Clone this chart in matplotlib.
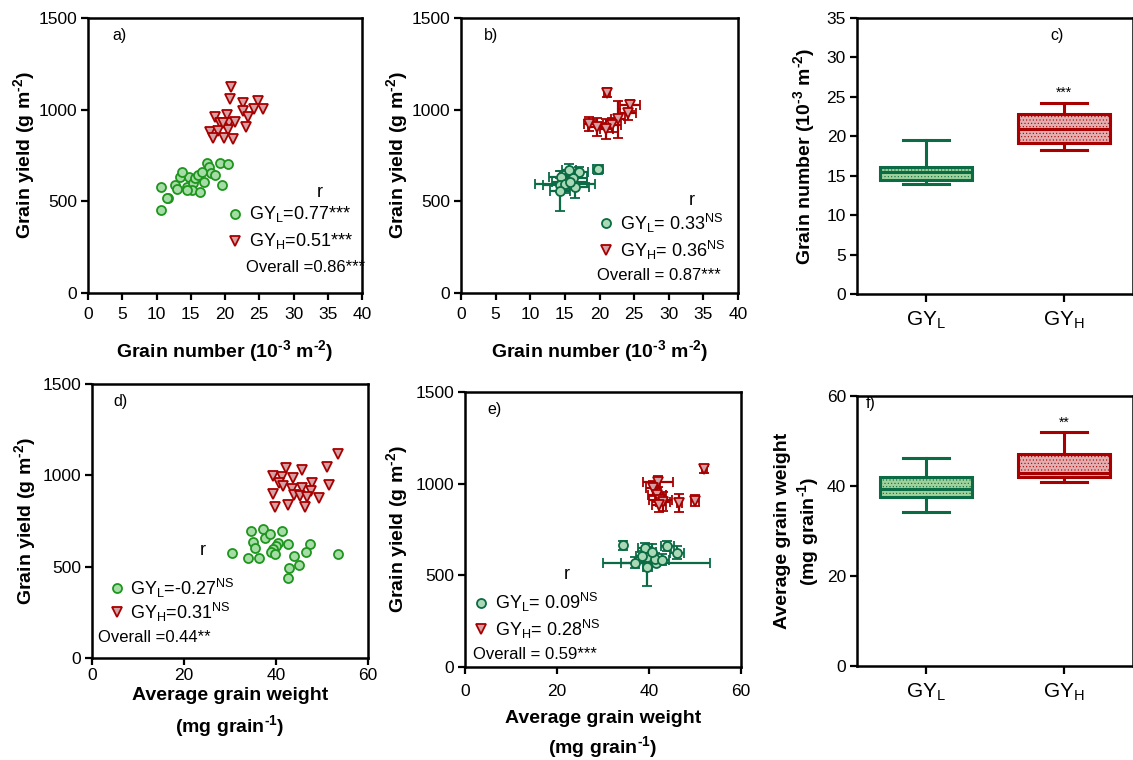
import numpy as np
import matplotlib
matplotlib.use("Agg")
import matplotlib.pyplot as plt

plt.rcParams['font.family'] = ['Liberation Sans', 'DejaVu Sans']
plt.rcParams['mathtext.fontset'] = 'custom'
plt.rcParams['mathtext.rm'] = 'Liberation Sans'
plt.rcParams['mathtext.it'] = 'Liberation Sans:italic'
plt.rcParams['mathtext.bf'] = 'Liberation Sans:bold'
plt.rcParams['hatch.linewidth'] = 0.4
plt.rcParams['hatch.color'] = '#ffffff'

# a) grain yield vs grain number, individual plots
a_low_x = [10.7, 11.7, 11.5, 10.6, 12.7, 13.0, 13.4, 14.4, 14.8, 15.3, 15.2, 15.6, 16.0,
           16.3, 17.0, 17.3, 17.5, 17.7, 18.0, 18.6, 19.2, 19.6, 20.5, 14.5, 13.7, 16.7]
a_low_y = [580, 517, 520, 453, 589, 569, 634, 580, 634, 598, 562, 627, 644,
           553, 607, 707, 671, 689, 653, 644, 711, 589, 702, 560, 660, 660]
a_high_x = [20.9, 20.8, 22.7, 24.8, 24.3, 25.5, 22.6, 23.3, 23.1, 18.6, 20.3, 19.2, 20.6,
            21.5, 17.8, 19.0, 20.4, 18.3, 19.9, 21.1, 19.7]
a_high_y = [1122, 1057, 1038, 1047, 1002, 1002, 994, 962, 904, 962, 971, 926, 929,
            934, 880, 885, 889, 844, 844, 838, 926]

# b) genotype means with standard errors
b_low_x = [19.8, 15.6, 17.1, 14.5, 16.2, 14.3, 15.0, 16.5, 14.3, 15.7]
b_low_y = [675, 671, 658, 634, 626, 589, 595, 580, 558, 607]
b_low_xerr = [0.7, 1.0, 1.3, 1.8, 2.0, 2.5, 4.3, 2.0, 1.5, 2.5]
b_low_yerr = [25, 35, 30, 30, 40, 40, 50, 60, 110, 40]
b_high_x = [21.1, 24.4, 24.1, 22.7, 21.8, 21.0, 19.6, 18.5]
b_high_y = [1093, 1025, 983, 947, 916, 893, 904, 922]
b_high_xerr = [0.4, 1.5, 1.2, 1.0, 1.3, 1.0, 1.2, 0.8]
b_high_yerr = [25, 30, 40, 100, 40, 55, 50, 40]

# c) grain number box plots (10^-3 m^-2)
c_low = dict(whislo=13.9, q1=14.5, med=15.5, q3=16.1, whishi=19.5)
c_high = dict(whislo=18.2, q1=19.2, med=20.9, q3=22.8, whishi=24.2)

# d) grain yield vs average grain weight, individual plots
d_low_x = [30.4, 34.5, 37.2, 35.0, 37.6, 38.7, 41.2, 35.5, 40.5, 40.1, 42.7, 39.3, 39.0,
           39.8, 34.0, 36.4, 44.0, 47.4, 46.5, 45.0, 42.9, 42.5, 53.5]
d_low_y = [576, 697, 704, 637, 655, 679, 697, 600, 631, 613, 624, 595, 582,
           569, 546, 546, 558, 624, 579, 509, 494, 440, 568]
d_high_x = [53.5, 51.0, 51.5, 49.4, 42.2, 45.7, 39.3, 41.2, 40.7, 43.8, 47.8, 39.3, 43.5,
            44.0, 45.6, 47.6, 45.2, 46.7, 39.8, 42.5, 46.3, 41.6]
d_high_y = [1115, 1047, 947, 874, 1042, 1029, 996, 992, 960, 984, 960, 896, 925,
            892, 932, 916, 887, 880, 828, 838, 828, 942]

# e) genotype means with standard errors
e_low_x = [34.4, 39.1, 44.0, 46.0, 41.6, 39.6, 38.4, 37.0, 39.6, 41.3, 42.8, 40.6]
e_low_y = [665, 647, 660, 623, 569, 598, 605, 569, 547, 587, 584, 629]
e_low_xerr = [0.5, 1.5, 1.5, 1.5, 11.7, 1.0, 1.2, 3.0, 1.0, 1.5, 1.5, 1.0]
e_low_yerr = [25, 30, 25, 35, 20, 30, 30, 30, 105, 35, 30, 40]
e_high_x = [52.0, 42.0, 40.9, 41.8, 42.4, 43.1, 42.2, 46.6, 50.0]
e_high_y = [1078, 1011, 975, 938, 911, 902, 884, 893, 907]
e_high_xerr = [0.5, 3.3, 1.5, 2.0, 2.5, 1.5, 1.5, 0.5, 0.8]
e_high_yerr = [20, 30, 40, 40, 30, 50, 40, 50, 30]

# f) average grain weight box plots (mg grain^-1)
f_low = dict(whislo=34.3, q1=37.5, med=39.3, q3=41.9, whishi=46.2)
f_high = dict(whislo=41.0, q1=42.1, med=42.9, q3=47.1, whishi=52.0)

group_labels = ['GY$_\\mathrm{L}$', 'GY$_\\mathrm{H}$']

LIGHT_GREEN = '#a6dca6'
GREEN_EDGE = '#1e961e'
DARK_GREEN = '#0b6b45'
TEAL_FILL = '#a9d9b5'
RED_EDGE = '#a80000'
RED_FILL = '#d4a2a4'

HY = '\u2010'
YLAB = 'Grain yield (g m$^{\\mathbf{' + HY + '2}}$)'
NLAB = 'Grain number (10$^{\\mathbf{' + HY + '3}}$ m$^{\\mathbf{' + HY + '2}}$)'
WLAB = 'Average grain weight\n(mg grain$^{\\mathbf{' + HY + '1}}$)'
LABEL_KW = dict(fontsize=14, fontweight='bold')

fig = plt.figure(figsize=(11.33, 7.6), dpi=100)
W, H = 1133, 760


def add_ax(l, r, t, b):
    return fig.add_axes([l / W, 1 - b / H, (r - l) / W, (b - t) / H])


def style(ax, xpad=3.5):
    for s in ax.spines.values():
        s.set_linewidth(1.8)
    ax.tick_params(direction='out', length=5, width=1.6, labelsize=12.5, pad=3)
    ax.tick_params(axis='x', pad=xpad)


def legend_text(ax, x0, xt, ys, texts, low_kw, high_kw, xr, yr, xo, yo, overall):
    ax.text(xr, yr, 'r', transform=ax.transAxes, fontsize=13, ha='center', va='center')
    ax.plot([x0], [ys[0]], transform=ax.transAxes, clip_on=False, ls='none', **low_kw)
    ax.plot([x0], [ys[1]], transform=ax.transAxes, clip_on=False, ls='none', **high_kw)
    ax.text(xt, ys[0], texts[0], transform=ax.transAxes, fontsize=13, va='center')
    ax.text(xt, ys[1], texts[1], transform=ax.transAxes, fontsize=13, va='center')
    ax.text(xo, yo, overall, transform=ax.transAxes, fontsize=12, va='center')


low_a = dict(marker='o', ms=6.5, mfc=LIGHT_GREEN, mec=GREEN_EDGE, mew=1.3)
high_a = dict(marker='v', ms=7.5, mfc=RED_FILL, mec=RED_EDGE, mew=1.3)
low_b = dict(marker='o', ms=6.5, mfc=TEAL_FILL, mec=DARK_GREEN, mew=1.3)
high_b = dict(marker='v', ms=7.5, mfc=RED_FILL, mec=RED_EDGE, mew=1.3)
err_kw = dict(ls='none', elinewidth=1.6, capsize=3.5, capthick=1.6)

# ---- a)
ax = add_ax(88, 362, 18, 293)
ax.plot(a_high_x, a_high_y, ls='none', **high_a)
ax.plot(a_low_x, a_low_y, ls='none', **low_a)
ax.set_xlim(0, 40)
ax.set_ylim(0, 1500)
ax.set_xticks(np.arange(0, 41, 5))
ax.set_yticks([0, 500, 1000, 1500])
style(ax, xpad=5)
ax.set_xlabel(NLAB, labelpad=12, **LABEL_KW)
ax.set_ylabel(YLAB, labelpad=1, **LABEL_KW)
ax.text(0.088, 0.92, 'a)', transform=ax.transAxes, fontsize=11.5)
legend_text(ax, 0.536, 0.587, [0.287, 0.189],
            ['GY$_\\mathrm{L}$=0.77***', 'GY$_\\mathrm{H}$=0.51***'],
            low_a, high_a, 0.847, 0.364, 0.577, 0.091, 'Overall =0.86***')

# ---- b)
ax = add_ax(461, 738, 18, 293)
ax.errorbar(b_high_x, b_high_y, xerr=b_high_xerr, yerr=b_high_yerr, ecolor=RED_EDGE,
            **err_kw, **high_b)
ax.errorbar(b_low_x, b_low_y, xerr=b_low_xerr, yerr=b_low_yerr, ecolor=DARK_GREEN,
            **err_kw, **low_b)
ax.set_xlim(0, 40)
ax.set_ylim(0, 1500)
ax.set_xticks(np.arange(0, 41, 5))
ax.set_yticks([0, 500, 1000, 1500])
style(ax, xpad=5)
ax.set_xlabel(NLAB, labelpad=12, **LABEL_KW)
ax.set_ylabel(YLAB, labelpad=1, **LABEL_KW)
ax.text(0.083, 0.92, 'b)', transform=ax.transAxes, fontsize=11.5)
legend_text(ax, 0.522, 0.574, [0.253, 0.156],
            ['GY$_\\mathrm{L}$= 0.33$^{\\mathrm{NS}}$', 'GY$_\\mathrm{H}$= 0.36$^{\\mathrm{NS}}$'],
            low_b, high_b, 0.833, 0.336, 0.49, 0.062, 'Overall = 0.87***')


def box_panel(ax, low, high, star, star_y):
    stats = [dict(low, label=group_labels[0]), dict(high, label=group_labels[1])]
    bp = ax.bxp(stats, positions=[1, 2], widths=0.67, capwidths=0.34, showfliers=False,
                patch_artist=True)
    for i, (edge, fill) in enumerate([(DARK_GREEN, '#9fd19b'), (RED_EDGE, '#e2aeb0')]):
        bp['boxes'][i].set(facecolor=fill, edgecolor=edge, linewidth=2.2, hatch='.....')
        bp['medians'][i].set(color=edge, linewidth=2.2)
        for ln in bp['whiskers'][2 * i:2 * i + 2] + bp['caps'][2 * i:2 * i + 2]:
            ln.set(color=edge, linewidth=2.2)
    ax.text(2, star_y, star, ha='center', va='center', fontsize=10)
    ax.set_xlim(0.5, 2.5)
    style(ax)
    ax.tick_params(axis='x', length=6, labelsize=15, pad=5)


# ---- c)
ax = add_ax(857, 1133, 18, 294)
box_panel(ax, c_low, c_high, '***', 25.5)
ax.set_ylim(0, 35)
ax.set_yticks(np.arange(0, 36, 5))
ax.set_ylabel(NLAB, labelpad=7, **LABEL_KW)
ax.text(0.70, 0.92, 'c)', transform=ax.transAxes, fontsize=11.5)

# ---- d)
ax = add_ax(92, 368, 384, 658)
ax.plot(d_high_x, d_high_y, ls='none', **high_a)
ax.plot(d_low_x, d_low_y, ls='none', **low_a)
ax.set_xlim(0, 60)
ax.set_ylim(0, 1500)
ax.set_xticks([0, 20, 40, 60])
ax.set_yticks([0, 500, 1000, 1500])
style(ax, xpad=2)
ax.set_xlabel(WLAB, labelpad=3, linespacing=1.5, **LABEL_KW)
ax.set_ylabel(YLAB, labelpad=3, **LABEL_KW)
ax.text(0.076, 0.92, 'd)', transform=ax.transAxes, fontsize=11.5)
legend_text(ax, 0.091, 0.138, [0.255, 0.168],
            ['GY$_\\mathrm{L}$=-0.27$^{\\mathrm{NS}}$', 'GY$_\\mathrm{H}$=0.31$^{\\mathrm{NS}}$'],
            low_a, high_a, 0.402, 0.394, 0.02, 0.073, 'Overall =0.44**')

# ---- e)
ax = add_ax(465, 741, 392, 667)
ax.errorbar(e_high_x, e_high_y, xerr=e_high_xerr, yerr=e_high_yerr, ecolor=RED_EDGE,
            **err_kw, **high_b)
ax.errorbar(e_low_x, e_low_y, xerr=e_low_xerr, yerr=e_low_yerr, ecolor=DARK_GREEN,
            **err_kw, **low_b)
ax.set_xlim(0, 60)
ax.set_ylim(0, 1500)
ax.set_xticks([0, 20, 40, 60])
ax.set_yticks([0, 500, 1000, 1500])
style(ax, xpad=7)
ax.set_xlabel(WLAB, labelpad=8, linespacing=1.4, **LABEL_KW)
ax.set_ylabel(YLAB, labelpad=4, **LABEL_KW)
ax.text(0.08, 0.92, 'e)', transform=ax.transAxes, fontsize=11.5)
legend_text(ax, 0.058, 0.109, [0.233, 0.138],
            ['GY$_\\mathrm{L}$= 0.09$^{\\mathrm{NS}}$', 'GY$_\\mathrm{H}$= 0.28$^{\\mathrm{NS}}$'],
            low_b, high_b, 0.37, 0.335, 0.03, 0.044, 'Overall = 0.59***')

# ---- f)
ax = add_ax(857, 1133, 396, 666)
box_panel(ax, f_low, f_high, '**', 54)
ax.set_ylim(0, 60)
ax.set_yticks([0, 20, 40, 60])
ax.set_ylabel(WLAB, labelpad=4, linespacing=1.2, **LABEL_KW)
ax.text(0.03, 0.955, 'f)', transform=ax.transAxes, fontsize=11.5)

fig.savefig('out.png', dpi=100)
